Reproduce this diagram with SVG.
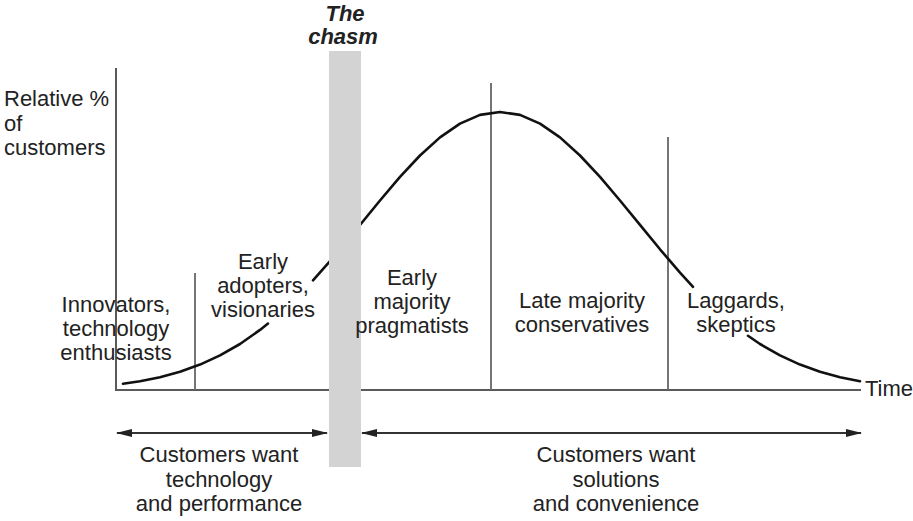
<svg xmlns="http://www.w3.org/2000/svg" width="913" height="521" viewBox="0 0 913 521">
<defs>
<style>
text{font-family:"Liberation Sans",Arial,sans-serif;font-size:22px;fill:#222}
.c{text-anchor:middle}
.ax{stroke:#5a5a5a;stroke-width:2;fill:none}
.dv{stroke:#666;stroke-width:1.8;fill:none}
.cv{stroke:#111;stroke-width:2.6;fill:none;stroke-linejoin:round;stroke-linecap:round}
.ar{stroke:#333;stroke-width:2;fill:none}
.bi{font-weight:bold;font-style:italic}
</style>
<marker id="ah" viewBox="0 0 16 10" refX="15" refY="5" markerWidth="16" markerHeight="10" markerUnits="userSpaceOnUse" orient="auto-start-reverse">
<path d="M0,1 L16,5 L0,9 Z" fill="#222"/>
</marker>
</defs>
<rect width="913" height="521" fill="#fff"/>
<g id="axes">
<path class="ax" d="M116,68 V390 H861"/>
<text x="865" y="396" style="text-anchor:start">Time</text>
<text x="4" y="106">Relative %</text>
<text x="4" y="131">of</text>
<text x="4" y="155">customers</text>
</g>
<g id="dividers">
<line class="dv" x1="195" y1="273" x2="195" y2="390"/>
<line class="dv" x1="491" y1="83" x2="491" y2="390"/>
<line class="dv" x1="668" y1="137" x2="668" y2="390"/>
</g>
<g id="curve">
<polyline class="cv" points="123,383.7 140,381.2 160,377.2 180,371.7 200,364.6 220,355.4 240,344 260,329.9 268,323.6"/>
<polyline class="cv" points="313,280.3 330,261.1 345,243.3"/>
<polyline class="cv" points="345,243.3 361,223.7 380,200.5 400,176.9 420,155.5 440,137.4 460,123.6 480,114.9 500,112 520,114.9 540,123.6 560,137.4 580,155.5 600,176.9 620,200.5 640,224.9 660,249.3 680,272.6 693,286.8"/>
<polyline class="cv" points="748,335.8 760,344 780,355.4 800,364.6 820,371.7 840,377.2 860,381.2"/>
</g>
<g id="chasm">
<rect x="329" y="51" width="32" height="416" fill="#d3d3d3"/>
<text class="c bi" x="345" y="21">The</text>
<text class="c bi" x="343" y="44">chasm</text>
</g>
<g id="innovators">
<text class="c" x="116" y="312">Innovators,</text>
<text class="c" x="116" y="336">technology</text>
<text class="c" x="116" y="360">enthusiasts</text>
</g>
<g id="early-adopters">
<text class="c" x="263" y="269">Early</text>
<text class="c" x="263" y="293">adopters,</text>
<text class="c" x="263" y="317">visionaries</text>
</g>
<g id="early-majority">
<text class="c" x="412" y="285">Early</text>
<text class="c" x="412" y="309">majority</text>
<text class="c" x="412" y="333">pragmatists</text>
</g>
<g id="late-majority">
<text class="c" x="582" y="308">Late majority</text>
<text class="c" x="582" y="332">conservatives</text>
</g>
<g id="laggards">
<text class="c" x="736" y="308">Laggards,</text>
<text class="c" x="736" y="332">skeptics</text>
</g>
<g id="connectors">
<line class="ar" x1="117" y1="433" x2="327" y2="433" marker-start="url(#ah)" marker-end="url(#ah)"/>
<line class="ar" x1="362" y1="433" x2="861" y2="433" marker-start="url(#ah)" marker-end="url(#ah)"/>
</g>
<g id="want-tech">
<text class="c" x="219" y="462">Customers want</text>
<text class="c" x="219" y="487">technology</text>
<text class="c" x="219" y="511">and performance</text>
</g>
<g id="want-solutions">
<text class="c" x="616" y="462">Customers want</text>
<text class="c" x="616" y="487">solutions</text>
<text class="c" x="616" y="511">and convenience</text>
</g>
</svg>
